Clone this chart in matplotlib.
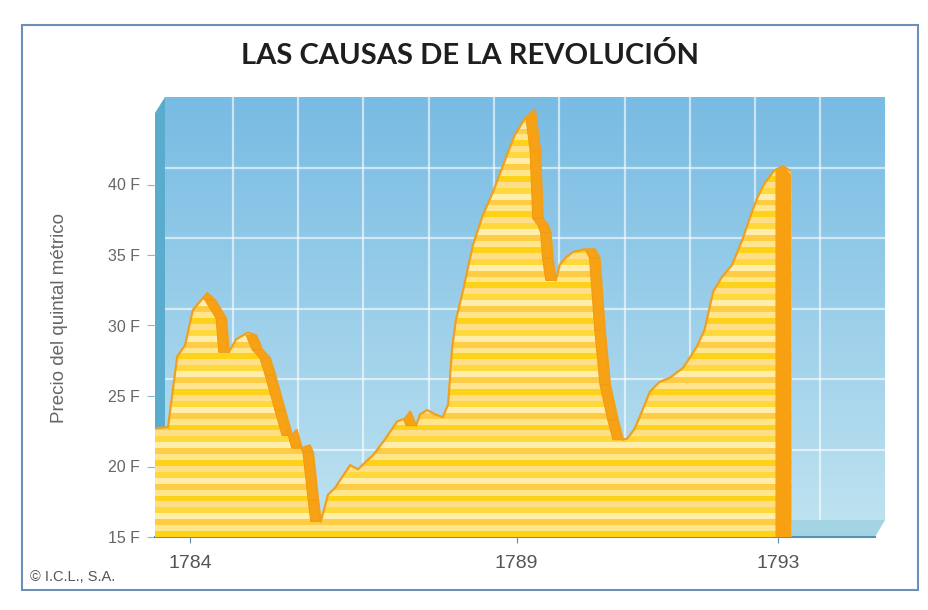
import numpy as np
import matplotlib
matplotlib.use("Agg")
import matplotlib.pyplot as plt
from matplotlib.patches import Polygon, Rectangle
from matplotlib.colors import to_rgb

# ---------------- data ----------------
years = [1783.46, 1783.66, 1783.80, 1783.92, 1784.04, 1784.26, 1784.38, 1784.55, 1784.59,
         1784.70, 1784.88, 1785.01, 1785.10, 1785.22, 1785.30, 1785.45, 1785.56, 1785.63,
         1785.71, 1785.83, 1785.88, 1785.96, 1786.00, 1786.11, 1786.22, 1786.32, 1786.45,
         1786.57, 1786.68, 1786.80, 1786.98, 1787.17, 1787.29, 1787.37, 1787.46, 1787.52,
         1787.63, 1787.75, 1787.87, 1787.95, 1788.01, 1788.07, 1788.18, 1788.33, 1788.48,
         1788.64, 1788.82, 1788.97, 1789.13, 1789.28, 1789.36, 1789.40, 1789.48, 1789.52,
         1789.55, 1789.60, 1789.66, 1789.75, 1789.86, 1790.04, 1790.20, 1790.27, 1790.35,
         1790.43, 1790.55, 1790.63, 1790.70, 1790.81, 1790.92, 1791.04, 1791.19, 1791.35,
         1791.55, 1791.65, 1791.76, 1791.88, 1792.01, 1792.14, 1792.30, 1792.46, 1792.57,
         1792.68, 1792.80, 1792.95, 1793.08, 1793.18]
prices = [22.7, 22.8, 27.8, 28.6, 31.1, 32.3, 31.8, 30.5, 28.1,
          29.0, 29.5, 29.3, 28.3, 27.7, 26.5, 24.0, 22.2, 22.6,
          21.3, 21.5, 21.0, 17.6, 16.1, 18.0, 18.5, 19.2, 20.1,
          19.8, 20.3, 20.8, 21.9, 23.2, 23.4, 23.9, 22.9, 23.7,
          24.0, 23.7, 23.5, 24.4, 28.3, 30.4, 32.5, 35.7, 37.8,
          39.5, 41.7, 43.5, 44.7, 45.3, 42.4, 37.6, 37.1, 36.6,
          34.8, 33.2, 34.3, 34.8, 35.2, 35.4, 35.4, 34.8, 29.7,
          25.8, 23.3, 21.9, 22.0, 22.7, 23.9, 25.3, 26.0, 26.3,
          27.0, 27.7, 28.5, 29.7, 32.4, 33.4, 34.3, 36.1, 37.6,
          39.0, 40.1, 41.0, 41.3, 41.0]
year_ticks = [1784, 1789, 1793]
year_labels = ["1784", "1789", "1793"]
price_ticks = [15, 20, 25, 30, 35, 40]
price_labels = ["15 F", "20 F", "25 F", "30 F", "35 F", "40 F"]
title = "LAS CAUSAS DE LA REVOLUCIÓN"
ylabel = "Precio del quintal métrico"
credit = "© I.C.L., S.A."

# ---------------- figure ----------------
W, H = 929, 610
fig = plt.figure(figsize=(W / 100, H / 100), dpi=100)
fig.patch.set_facecolor("white")

def fx(x):
    return x / W

def fy(y):
    return 1 - y / H

XMIN, XMAX = 1783.46, 1794.49
YTOP = 15 + 444 / 14.1

# back wall (shifted up/right for a 3D look)
wall = fig.add_axes([fx(165), fy(520), 720 / W, 423 / H], zorder=0)
wall.set_xlim(XMIN, XMAX)
wall.set_ylim(15, 45)
top_c = np.array(to_rgb("#78bbe3"))
bot_c = np.array(to_rgb("#bde2f0"))
t = np.linspace(0, 1, 200)[:, None, None]
grad = top_c * (1 - t) + bot_c * t
wall.imshow(grad, extent=[XMIN, XMAX, 15, 45], aspect="auto", origin="upper", zorder=0)
for v in [20, 25, 30, 35, 40]:
    wall.axhline(v, color="white", lw=1.6, alpha=0.6, zorder=1)
for yv in np.arange(1784.5, 1794.0, 1.0):
    wall.axvline(yv, color="white", lw=1.6, alpha=0.6, zorder=1)
wall.axis("off")

# side face and floor
side = Polygon([(fx(155), fy(537)), (fx(155), fy(113)), (fx(165), fy(97)), (fx(165), fy(520))],
               closed=True, transform=fig.transFigure, facecolor="#5aaccf", edgecolor="none", zorder=1)
floor = Polygon([(fx(155), fy(537)), (fx(875), fy(537)), (fx(885), fy(520)), (fx(165), fy(520))],
                closed=True, transform=fig.transFigure, facecolor="#a3d4e4", edgecolor="none", zorder=1)
fig.add_artist(side)
fig.add_artist(floor)

# front axes with the data
ax = fig.add_axes([fx(155), fy(537), 720 / W, (537 - 93) / H], zorder=2)
ax.patch.set_alpha(0)
ax.set_xlim(XMIN, XMAX)
ax.set_ylim(15, YTOP)

xs = np.array(years)
ys = np.array(prices)
x_end = xs[-1] + 0.03
poly_pts = [(xs[0], 15)] + list(zip(xs, ys)) + [(x_end, ys[-1] - 0.3), (x_end, 15)]
fill_poly = Polygon(poly_pts, closed=True, facecolor="#ffd84a", edgecolor="none", zorder=2)
ax.add_patch(fill_poly)

# horizontal stripes clipped to the area
stripe_cols = ["#ffd21a", "#ffd21a", "#ffe68c", "#ffe68c", "#ffcc45", "#ffcc45",
               "#ffedac", "#ffedac", "#ffd83c", "#ffd83c", "#ffde8a", "#ffde8a"]
nrows = 150
img = np.array([to_rgb(stripe_cols[i % len(stripe_cols)]) for i in range(nrows)])[:, None, :]
im = ax.imshow(img, extent=[XMIN, XMAX, 15, YTOP], aspect="auto",
               origin="lower", interpolation="nearest", zorder=3)
im.set_clip_path(fill_poly)

# orange "side faces" on falling segments (extruded inward)
dx = 10 / 65.3
for i in range(len(xs) - 1):
    if ys[i + 1] < ys[i] - 0.3:
        face = Polygon([(xs[i] - dx, ys[i]), (xs[i], ys[i]), (xs[i + 1], ys[i + 1]),
                        (xs[i + 1] - dx, ys[i + 1])], closed=True,
                       facecolor="#f7a214", edgecolor="#f39a10", lw=0.8, zorder=4)
        face.set_clip_path(fill_poly)
        ax.add_patch(face)
# final vertical face
end_face = Polygon([(x_end - 16 / 65.3, 15), (x_end - 16 / 65.3, ys[-2] - 0.2),
                    (xs[-2], ys[-2]), (x_end, ys[-1] - 0.3), (x_end, 15)], closed=True,
                   facecolor="#f7a012", edgecolor="none", zorder=4)
ax.add_patch(end_face)

ax.plot(xs, ys, color="#f0a020", lw=1.6, zorder=5, solid_capstyle="round")

for s in ["top", "right", "left"]:
    ax.spines[s].set_visible(False)
ax.spines["bottom"].set_color("#5b8fb8")
ax.spines["bottom"].set_linewidth(1.5)
ax.spines["bottom"].set_bounds(XMIN, XMIN + 720 / 65.3)
ax.set_xticks(year_ticks)
ax.set_xticklabels(year_labels, fontsize=14, color="#555555", family="Liberation Sans")
ax.set_yticks(price_ticks)
ax.set_yticklabels(price_labels, fontsize=11.5, color="#666666", family="Liberation Sans")
ax.tick_params(axis="x", length=4, color="#5b8fb8", pad=9)
ax.tick_params(axis="y", length=6, color="#8ab8d8", pad=5)

# texts
fig.text(fx(470), fy(55), title, ha="center", va="center", fontsize=21,
         fontweight="bold", color="#1e1e1e", family="Lato")
fig.text(fx(60), fy(318), ylabel, rotation=90, ha="center", va="center",
         fontsize=13.5, color="#666666", family="Liberation Sans")
fig.text(fx(30), fy(577), credit, ha="left", va="center",
         fontsize=10.5, color="#555555", family="Liberation Sans")

# outer frame
frame = Rectangle((fx(22), fy(590)), (918 - 22) / W, (590 - 25) / H, transform=fig.transFigure,
                  fill=False, edgecolor="#6a90b8", lw=1.5, zorder=10)
fig.add_artist(frame)

fig.savefig("out.png", dpi=100)
